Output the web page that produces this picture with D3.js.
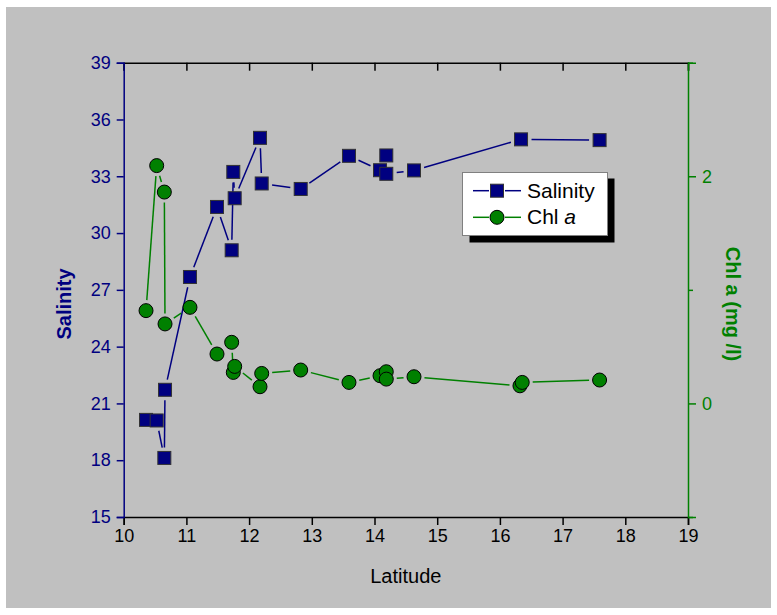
<!DOCTYPE html>
<html><head><meta charset="utf-8">
<script src="https://cdn.jsdelivr.net/npm/d3@7"></script>
<style>
html,body{margin:0;padding:0;background:#fff;}
svg{display:block;font-family:"Liberation Sans",Arial,sans-serif;}
</style></head>
<body>
<svg id="chart" width="777" height="615"></svg>
<script>
// ---- data ----
const salLat   = [10.356,10.526,10.648,10.659,11.057,11.488,11.722,11.748,11.770,12.174,12.201,12.823,13.593,14.088,14.188,14.188,14.630,16.337,17.590];
const salinity = [20.13, 20.10, 18.12, 21.72, 27.68, 31.38, 29.09, 33.23, 31.84, 35.03, 32.62, 32.33, 34.08, 33.32, 34.10, 33.13, 33.31, 34.95, 34.91];
const chlLat   = [10.356,10.526,10.648,10.659,11.057,11.488,11.722,11.748,11.770,12.174,12.201,12.823,13.593,14.088,14.188,14.188,14.630,16.320,16.356,17.590];
const chl      = [0.817, 2.094, 1.861, 0.700, 0.846, 0.435, 0.538, 0.273, 0.326, 0.147, 0.264, 0.294, 0.185, 0.244, 0.279, 0.214, 0.235, 0.155, 0.185, 0.206];
const xTicks   = [10,11,12,13,14,15,16,17,18,19];
const salTicks = [15,18,21,24,27,30,33,36,39];
const chlMajor = [0,2];
const chlMinor = [-1,1,3];
const legendLabels = ["Salinity","Chl"];

const NAVY = "#000080", GREEN = "#008000";
const svg = d3.select("#chart");
const L = 123.7, R = 688, T = 62.7, B = 517;

svg.append("rect").attr("x",6).attr("y",7).attr("width",765).attr("height",601).attr("fill","#c0c0c0");

const x = d3.scaleLinear().domain([10,19]).range([L,R]);
const yS = d3.scaleLinear().domain([15,39]).range([B,T]);
const yC = d3.scaleLinear().domain([-1,3]).range([B,T]);

// axes
const gx = svg.append("g").attr("transform",`translate(0,${B})`)
  .call(d3.axisBottom(x).tickValues(xTicks).tickSize(8).tickPadding(4).tickFormat(d3.format("d")));
gx.select(".domain").attr("stroke","#000").attr("stroke-width",1.5);
gx.selectAll(".tick line").attr("stroke","#000").attr("stroke-width",1.5);
gx.selectAll(".tick text").attr("fill","#000").attr("font-size",18).attr("font-family","Liberation Sans, Arial");

const gt = svg.append("g").attr("transform",`translate(0,${T})`)
  .call(d3.axisTop(x).tickValues(xTicks).tickSize(-8).tickFormat(""));
gt.select(".domain").attr("stroke","#000").attr("stroke-width",1.5);
gt.selectAll(".tick line").attr("stroke","#000").attr("stroke-width",1.5);

const gl = svg.append("g").attr("transform",`translate(${L},0)`)
  .call(d3.axisLeft(yS).tickValues(salTicks).tickSize(7).tickPadding(6).tickFormat(d3.format("d")));
gl.select(".domain").attr("stroke",NAVY).attr("stroke-width",1.5);
gl.selectAll(".tick line").attr("stroke",NAVY).attr("stroke-width",1.5);
gl.selectAll(".tick text").attr("fill",NAVY).attr("font-size",18).attr("font-family","Liberation Sans, Arial");

const gr = svg.append("g").attr("transform",`translate(${R},0)`)
  .call(d3.axisRight(yC).tickValues(chlMajor).tickSize(8).tickPadding(6).tickFormat(d3.format("d")));
gr.select(".domain").attr("stroke",GREEN).attr("stroke-width",1.5);
gr.selectAll(".tick line").attr("stroke",GREEN).attr("stroke-width",1.5);
gr.selectAll(".tick text").attr("fill",GREEN).attr("font-size",18).attr("font-family","Liberation Sans, Arial");
const grm = svg.append("g").attr("transform",`translate(${R},0)`)
  .call(d3.axisRight(yC).tickValues(chlMinor).tickSize(5).tickFormat(""));
grm.select(".domain").remove();
grm.selectAll(".tick line").attr("stroke",GREEN).attr("stroke-width",1.5);

// axis titles
svg.append("text").attr("x",(L+R)/2).attr("y",583).attr("text-anchor","middle")
  .attr("font-size",20).attr("fill","#000").text("Latitude");
svg.append("text").attr("transform",`translate(71,304) rotate(-90)`).attr("text-anchor","middle")
  .attr("font-size",20).attr("font-weight","bold").attr("fill",NAVY).text("Salinity");
const ct = svg.append("text").attr("transform",`translate(726,304) rotate(90)`).attr("text-anchor","middle")
  .attr("font-size",20).attr("font-weight","bold").attr("fill",GREEN);
ct.append("tspan").text("Chl ");
ct.append("tspan").text("a");
ct.append("tspan").text(" (mg /l)");

// gapped polyline
function gapped(g, px, py, color, gap){
  for(let i=0;i<px.length-1;i++){
    const x1=px[i], y1=py[i], x2=px[i+1], y2=py[i+1];
    const dx=x2-x1, dy=y2-y1, len=Math.hypot(dx,dy);
    if(len<=2*gap) continue;
    const ux=dx/len, uy=dy/len;
    g.append("line").attr("x1",x1+ux*gap).attr("y1",y1+uy*gap)
      .attr("x2",x2-ux*gap).attr("y2",y2-uy*gap)
      .attr("stroke",color).attr("stroke-width",1.5);
  }
}

// salinity
const gs = svg.append("g");
const spx = salLat.map(d=>x(d)), spy = salinity.map(d=>yS(d));
gapped(gs, spx, spy, NAVY, 10.5);
gs.selectAll("rect.m").data(salLat).join("rect").attr("class","m")
  .attr("x",(d,i)=>x(d)-6.5).attr("y",(d,i)=>yS(salinity[i])-6.5)
  .attr("width",13).attr("height",13).attr("fill",NAVY).attr("stroke","#333").attr("stroke-width",1);

// chl
const gc = svg.append("g");
const cpx = chlLat.map(d=>x(d)), cpy = chl.map(d=>yC(d));
gapped(gc, cpx, cpy, GREEN, 10.5);
gc.selectAll("circle.m").data(chlLat).join("circle").attr("class","m")
  .attr("cx",d=>x(d)).attr("cy",(d,i)=>yC(chl[i])).attr("r",7)
  .attr("fill",GREEN).attr("stroke","#000").attr("stroke-width",1);

// legend
const lg = svg.append("g");
lg.append("rect").attr("x",469.5).attr("y",178.5).attr("width",145).attr("height",64).attr("fill","#000");
lg.append("rect").attr("x",462.5).attr("y",172.5).attr("width",145).attr("height",63).attr("fill","#fff").attr("stroke","#808080").attr("stroke-width",1);
const rows = [190.7, 217.3];
[NAVY, GREEN].forEach((c,i)=>{
  const yy = rows[i];
  lg.append("line").attr("x1",473).attr("x2",489).attr("y1",yy).attr("y2",yy).attr("stroke",c).attr("stroke-width",1.5);
  lg.append("line").attr("x1",505).attr("x2",521).attr("y1",yy).attr("y2",yy).attr("stroke",c).attr("stroke-width",1.5);
});
lg.append("rect").attr("x",497-6.5).attr("y",rows[0]-6.5).attr("width",13).attr("height",13).attr("fill",NAVY).attr("stroke","#333");
lg.append("circle").attr("cx",497).attr("cy",rows[1]).attr("r",7).attr("fill",GREEN).attr("stroke","#000");
lg.append("text").attr("x",527).attr("y",rows[0]+7).attr("font-size",21).attr("fill","#000").text(legendLabels[0]);
const t2 = lg.append("text").attr("x",527).attr("y",rows[1]+7).attr("font-size",21).attr("fill","#000");
t2.append("tspan").text(legendLabels[1]+" ");
t2.append("tspan").attr("font-style","italic").text("a");
</script>
</body></html>
